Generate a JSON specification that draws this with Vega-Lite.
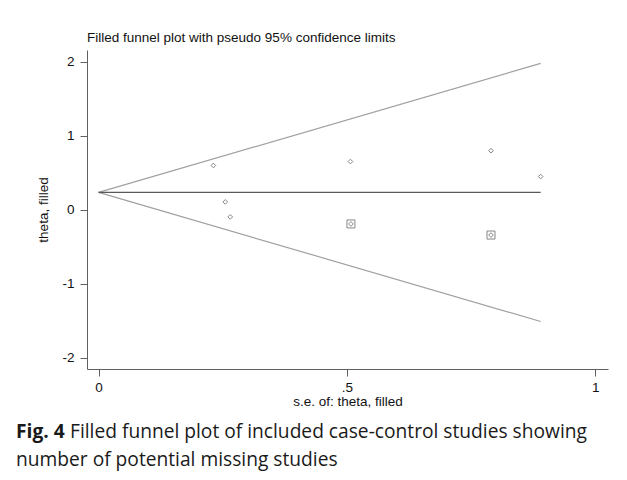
{
  "$schema": "https://vega.github.io/schema/vega-lite/v6.json",
  "background": "white",
  "padding": {"left": 15, "top": 30, "right": 19, "bottom": 5},
  "title": {
    "text": "Fig. 4",
    "subtitle": "number of potential missing studies",
    "orient": "bottom",
    "anchor": "start",
    "frame": "bounds",
    "dx": -21,
    "offset": -19.2,
    "font": "Open Sans",
    "fontSize": 19.2,
    "fontWeight": "bold",
    "color": "#1a1a1a",
    "subtitleFont": "Open Sans",
    "subtitleFontSize": 19.2,
    "subtitleColor": "#1a1a1a",
    "subtitleFontWeight": "normal",
    "subtitlePadding": 8.8
  },
  "config": {
    "view": {"stroke": null},
    "axis": {
      "grid": false,
      "domainColor": "#606060",
      "tickColor": "#606060",
      "tickSize": 7,
      "labelFont": "Liberation Sans",
      "labelFontSize": 13.5,
      "labelColor": "#111111",
      "titleFont": "Liberation Sans",
      "titleFontSize": 13.5,
      "titleFontWeight": "normal",
      "titleColor": "#111111"
    }
  },
  "vconcat": [
    {
      "title": {
        "text": "Filled funnel plot of included case-control studies showing",
        "orient": "bottom",
        "anchor": "start",
        "frame": "bounds",
        "dx": 33,
        "offset": 15,
        "font": "Open Sans",
        "fontSize": 19.2,
        "fontWeight": "normal",
        "color": "#1a1a1a"
      },
      "vconcat": [
        {
          "width": 521,
          "height": 319,
          "title": {
            "text": "Filled funnel plot with pseudo 95% confidence limits",
            "anchor": "start",
            "frame": "group",
            "font": "Liberation Sans",
            "fontSize": 13.5,
            "fontWeight": "normal",
            "color": "#111111",
            "offset": 6
          },
          "layer": [
            {
              "data": {
                "values": [
                  {"series": "upper", "se": 0, "theta": 0.236},
                  {"series": "upper", "se": 0.89, "theta": 1.98},
                  {"series": "lower", "se": 0, "theta": 0.236},
                  {"series": "lower", "se": 0.89, "theta": -1.508},
                  {"series": "mean", "se": 0, "theta": 0.236},
                  {"series": "mean", "se": 0.89, "theta": 0.236}
                ]
              },
              "mark": {"type": "line", "strokeWidth": 1.2},
              "encoding": {
                "x": {"field": "se", "type": "quantitative", "scale": {"domain": [-0.0234, 1.0256], "nice": false, "zero": false},
                      "axis": {"values": [0, 0.5, 1], "labelExpr": "datum.value == 0.5 ? '.5' : '' + datum.value", "title": "s.e. of: theta, filled", "labelPadding": 4, "titlePadding": 1}},
                "y": {"field": "theta", "type": "quantitative", "scale": {"domain": [-2.15, 2.16], "nice": false, "zero": false},
                      "axis": {"values": [-2, -1, 0, 1, 2], "labelExpr": "'' + datum.value", "labelAngle": 0, "title": "theta, filled", "labelPadding": 6, "titlePadding": 11}},
                "detail": {"field": "series"},
                "color": {"field": "series", "type": "nominal", "scale": {"domain": ["upper", "lower", "mean"], "range": ["#a0a0a0", "#a0a0a0", "#595959"]}, "legend": null}
              }
            },
            {
              "data": {
                "values": [
                  {"se": 0.231, "theta": 0.60, "kind": "observed"},
                  {"se": 0.255, "theta": 0.108, "kind": "observed"},
                  {"se": 0.265, "theta": -0.095, "kind": "observed"},
                  {"se": 0.507, "theta": 0.653, "kind": "observed"},
                  {"se": 0.79, "theta": 0.80, "kind": "observed"},
                  {"se": 0.89, "theta": 0.45, "kind": "observed"},
                  {"se": 0.508, "theta": -0.19, "kind": "filled"},
                  {"se": 0.79, "theta": -0.34, "kind": "filled"}
                ]
              },
              "layer": [
                {
                  "mark": {"type": "point", "shape": "diamond", "size": 22, "filled": false, "stroke": "#555555", "strokeWidth": 1},
                  "encoding": {
                    "x": {"field": "se", "type": "quantitative"},
                    "y": {"field": "theta", "type": "quantitative"}
                  }
                },
                {
                  "transform": [{"filter": "datum.kind == 'filled'"}],
                  "mark": {"type": "point", "shape": "square", "size": 64, "filled": false, "stroke": "#555555", "strokeWidth": 1},
                  "encoding": {
                    "x": {"field": "se", "type": "quantitative"},
                    "y": {"field": "theta", "type": "quantitative"}
                  }
                }
              ]
            }
          ]
        }
      ]
    }
  ]
}
